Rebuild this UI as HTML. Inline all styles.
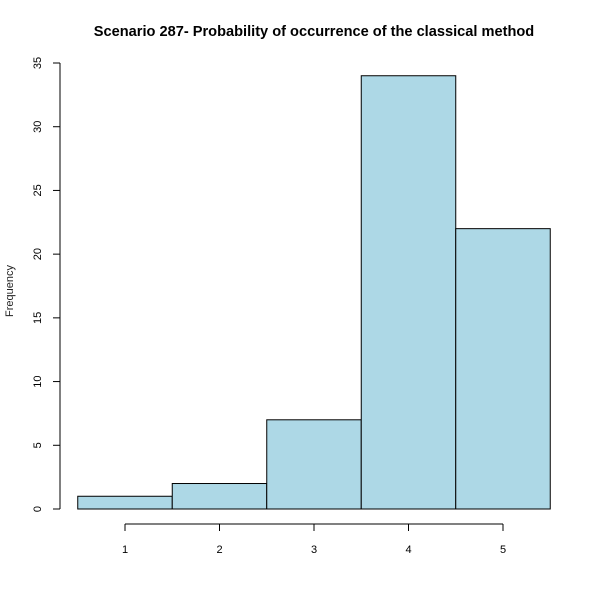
<!DOCTYPE html>
<html><head><meta charset="utf-8"><style>
body{margin:0;background:#fff}
svg{display:block;font-family:"Liberation Sans",Arial,sans-serif}
</style></head><body>
<svg id="c" width="600" height="600">
<text x="314" y="36" text-anchor="middle" font-weight="bold" font-size="14.6">Scenario 287- Probability of occurrence of the classical method</text>
<text transform="translate(13,291) rotate(-90)" text-anchor="middle" font-size="11" fill="#222">Frequency</text>
<g id="bars"></g><g id="yax"></g><g id="xax"></g>
</svg>
<script>
const binStarts=[0.5,1.5,2.5,3.5,4.5];
const counts=[1,2,7,34,22];
const yTicks=[0,5,10,15,20,25,30,35];
const xTicks=[1,2,3,4,5];
const NS="http://www.w3.org/2000/svg";
const xs=v=>125+(v-1)*94.5;
const ys=v=>509-v*(446/35);
function mk(t,a,p){const e=document.createElementNS(NS,t);for(const k in a)e.setAttribute(k,a[k]);p.appendChild(e);return e;}
const bars=document.getElementById('bars'),yax=document.getElementById('yax'),xax=document.getElementById('xax');
counts.forEach((c,i)=>{
  const r=mk('rect',{x:xs(binStarts[i]),y:ys(c),width:xs(binStarts[i]+1)-xs(binStarts[i]),height:ys(0)-ys(c),fill:'#add8e6',stroke:'#000','stroke-width':1},bars);
  
  
});
mk('line',{x1:60,x2:60,y1:ys(0),y2:ys(35),stroke:'#000'},yax);
yTicks.forEach(t=>{
  mk('line',{x1:53,x2:60,y1:ys(t),y2:ys(t),stroke:'#000'},yax);
  const tx=mk('text',{transform:`translate(41,${ys(t)}) rotate(-90)`,'text-anchor':'middle','font-size':11},yax);
  tx.textContent=t;
  
  
});
mk('line',{x1:xs(1),x2:xs(5),y1:524,y2:524,stroke:'#000'},xax);
xTicks.forEach(t=>{
  mk('line',{x1:xs(t),x2:xs(t),y1:524,y2:531,stroke:'#000'},xax);
  const tx=mk('text',{x:xs(t),y:553,'text-anchor':'middle','font-size':11},xax);
  tx.textContent=t;
  
  
});
</script>
</body></html>
